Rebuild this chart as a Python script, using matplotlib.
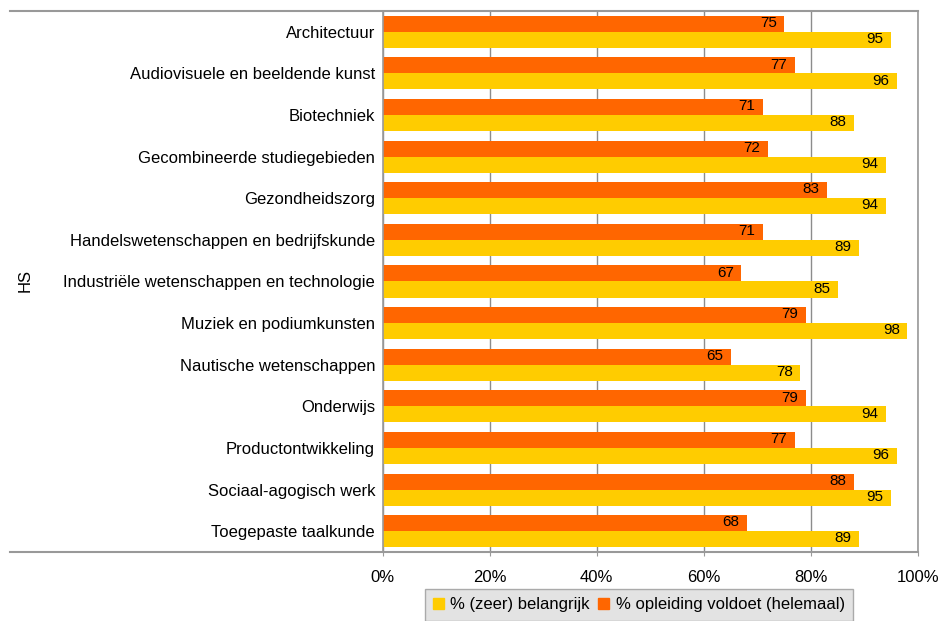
import numpy as np
import matplotlib.pyplot as plt
from matplotlib.patches import Patch

plt.rcParams['font.family'] = ['Liberation Sans', 'DejaVu Sans']

categories = ['Architectuur', 'Audiovisuele en beeldende kunst', 'Biotechniek',
              'Gecombineerde studiegebieden', 'Gezondheidszorg',
              'Handelswetenschappen en bedrijfskunde',
              'Industriële wetenschappen en technologie',
              'Muziek en podiumkunsten', 'Nautische wetenschappen', 'Onderwijs',
              'Productontwikkeling', 'Sociaal-agogisch werk', 'Toegepaste taalkunde']
voldoet = [75, 77, 71, 72, 83, 71, 67, 79, 65, 79, 77, 88, 68]
belangrijk = [95, 96, 88, 94, 94, 89, 85, 98, 78, 94, 96, 95, 89]
xticks = [0, 20, 40, 60, 80, 100]

orange = '#FF6600'
yellow = '#FFCC00'
grey = '#999999'

fig = plt.figure(figsize=(9.43, 6.21), dpi=100)
ax = fig.add_axes([0.4058, 0.1111, 0.5677, 0.8712])

y = np.arange(len(categories))
h = 0.385
b1 = ax.barh(y - h / 2, voldoet, height=h, color=orange, zorder=2)
b2 = ax.barh(y + h / 2, belangrijk, height=h, color=yellow, zorder=2)

for bars, vals in ((b1, voldoet), (b2, belangrijk)):
    for bar, v in zip(bars, vals):
        ax.text(bar.get_width() - 1.4, bar.get_y() + bar.get_height() / 2 - 0.02, str(v),
                ha='right', va='center', fontsize=11, color='black', zorder=3)

ax.set_xlim(0, 100)
ax.set_ylim(len(categories) - 0.5, -0.5)
ax.set_xticks(xticks)
ax.set_xticklabels([f'{t}%' for t in xticks], fontsize=12)
ax.set_yticks(y)
ax.set_yticklabels(categories, fontsize=12)
ax.tick_params(axis='y', length=0, pad=5.5)
ax.tick_params(axis='x', length=3, color=grey, pad=10)
ax.grid(axis='x', color='#8c8c8c', linewidth=1, zorder=1)
for s in ax.spines.values():
    s.set_color(grey)
    s.set_linewidth(1.2)

# horizontal lines running over the label area
for yy in (0, 1):
    ax.plot([-0.696, 1], [yy, yy], transform=ax.transAxes, color=grey,
            linewidth=1.5, clip_on=False, zorder=5)

fig.text(0.027, 0.549, 'HS', rotation=90, ha='center', va='center', fontsize=12)

handles = [Patch(color=yellow, label='% (zeer) belangrijk'),
           Patch(color=orange, label='% opleiding voldoet (helemaal)')]
leg = fig.legend(handles=handles, loc='upper center', bbox_to_anchor=(0.6776, 0.0515),
                 ncol=2, fontsize=12, frameon=True, fancybox=False,
                 handlelength=0.65, handleheight=0.65, handletextpad=0.4,
                 columnspacing=0.5, borderpad=0.5, borderaxespad=0)
leg.get_frame().set_facecolor('#dddddd')
leg.get_frame().set_edgecolor(grey)

fig.savefig('out.png', dpi=100)
